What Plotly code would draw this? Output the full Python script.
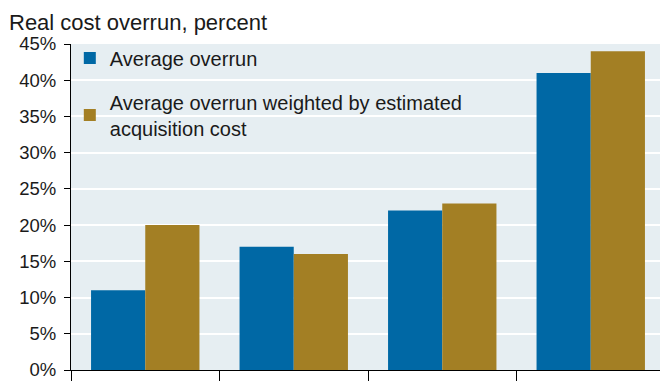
import plotly.graph_objects as go

categories = ["A", "B", "C", "D"]
avg_overrun = [11, 17, 22, 41]
weighted_overrun = [20, 16, 23, 44]
series_names = ["Average overrun", "Average overrun weighted by estimated<br>acquisition cost"]
y_ticks = [0, 5, 10, 15, 20, 25, 30, 35, 40, 45]
y_tick_labels = [f"{v}%" for v in y_ticks]

fig = go.Figure()
fig.add_trace(go.Bar(x=categories, y=avg_overrun, name=series_names[0], legendgroup="a",
                     marker=dict(color="#0068A5", line=dict(width=0))))
fig.add_trace(go.Bar(x=categories, y=weighted_overrun, name=series_names[1], legendgroup="b",
                     marker=dict(color="#A37F24", line=dict(width=0))))

fig.update_layout(
    width=660, height=375,
    margin=dict(l=63, r=3, t=36, b=10),
    paper_bgcolor="white",
    plot_bgcolor="#E6EEF2",
    barmode="group",
    bargap=0.27,
    bargroupgap=0,
    font=dict(family="Liberation Sans, Arial", size=18.5, color="#1a1a1a"),
    showlegend=True,
    legend=dict(x=-0.002, y=1.017, xanchor="left", yanchor="top",
                bgcolor="rgba(0,0,0,0)", font=dict(size=20),
                tracegroupgap=15, itemwidth=30),
    annotations=[dict(text="Real cost overrun, percent", xref="paper", yref="paper",
                      x=-0.106, y=1.108, xanchor="left", yanchor="top", borderpad=0,
                      showarrow=False, font=dict(size=22))],
)
fig.update_xaxes(showticklabels=False, ticks="outside", tickson="boundaries",
                 ticklen=10, tickcolor="black", showline=True, linecolor="black",
                 linewidth=1, showgrid=False)
fig.update_yaxes(range=[0, 45], tickvals=y_ticks, ticktext=y_tick_labels,
                 ticks="outside", ticklen=6, tickcolor="black", showline=True,
                 linecolor="black", linewidth=1, showgrid=True, gridcolor="white",
                 gridwidth=2, zeroline=False, ticklabelstandoff=4)

fig.write_html("out.html")
